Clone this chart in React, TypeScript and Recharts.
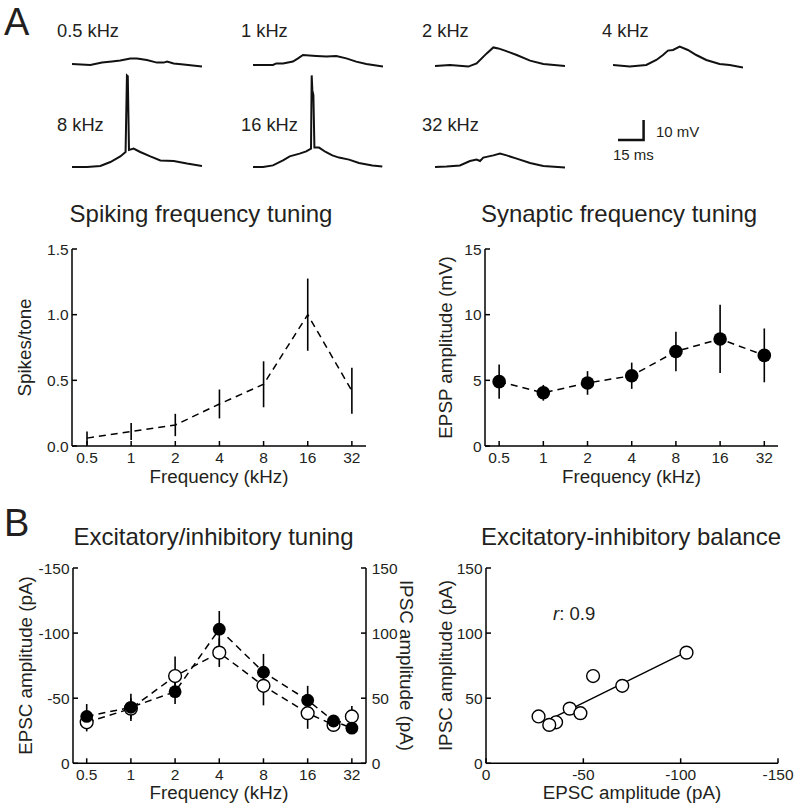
import React from 'react';
import { ComposedChart, LineChart, Line, Scatter, XAxis, YAxis, ErrorBar } from 'recharts';

const FONT = '"Liberation Sans", Arial, Helvetica, sans-serif';
const INK = '#231f20';

// tone frequencies (kHz)
const freqTicks = [0.5, 1, 2, 4, 8, 16, 32];
const freqsA = [0.5, 1, 2, 4, 8, 16, 32];
const freqsB = [0.5, 1, 2, 4, 8, 16, 24, 32];

// A: spiking tuning (spikes/tone, mean +- sem)
const spikesMean = [0.06, 0.11, 0.16, 0.32, 0.47, 1.0, 0.42];
const spikesErr = [0.05, 0.065, 0.085, 0.11, 0.175, 0.275, 0.175];

// A: synaptic tuning (EPSP mV)
const epspMean = [4.9, 4.05, 4.8, 5.35, 7.2, 8.15, 6.9];
const epspErr = [1.3, 0.6, 0.9, 1.0, 1.5, 2.6, 2.05];

// B: EPSC (pA, inward = negative) and IPSC (pA)
const epscMean = [-36, -43, -55, -103, -70, -48.5, -32.5, -27];
const epscErr = [9.5, 10.5, 9.5, 14, 14, 11, 3, 2];
const ipscMean = [31.5, 42, 67, 85, 59.5, 38.5, 29.5, 36];
const ipscErr = [7, 8, 15, 11, 15, 12, 3, 8];

// B: linear fit end points (EPSC, IPSC)
const fitEpsc = [-32.5, -103];
const fitIpsc = [33.6, 85.6];

// example membrane potential traces [ms, mV above rest]
const trace05 = [[0, 0.5], [10.7, 0], [17.6, 1.2], [23.4, 1.7], [28.3, 2.2], [34.2, 3.3], [38.1, 3.3], [43.9, 2.5], [49.8, 1.2], [53.7, 1.2], [55.7, 1.7], [59.6, 0.8], [65.4, 0.3], [76.2, -0.8]];
const trace1 = [[0, 0], [11.7, 0], [13.7, 0.8], [17.6, 0.8], [23.4, 1.7], [26.4, 3.3], [29.3, 5], [37.1, 4.5], [43, 4.2], [48.8, 4.5], [54.7, 3.3], [60.5, 1.7], [66.4, 0.5], [76.2, -0.8]];
const trace2 = [[0, -0.5], [8.8, 0], [19.5, -0.8], [24.4, 0.8], [30.3, 5.8], [34.2, 8.8], [37.1, 8.3], [41, 7.2], [47.9, 5], [55.7, 2.2], [63.5, 0.5], [76.2, -0.5]];
const trace4 = [[0, 0], [9.8, -0.8], [19.5, 0], [25.4, 2.5], [29.3, 5], [32.2, 7.2], [35.2, 7.5], [39.1, 9.2], [43.9, 7.5], [48.8, 5], [54.7, 2.5], [62.5, 0.5], [68.4, 0], [76.2, -1.2]];
const trace8 = [[0, 0], [8.8, 0], [16.6, 0.5], [22.5, 2.5], [28.3, 5.3], [31.4, 7.5], [32.2, 45.8], [32.7, 45.4], [33.4, 8.5], [36.1, 9.2], [40, 7.5], [45.9, 5.3], [51.8, 3.3], [59.6, 3], [67.4, 1.7], [76.2, 0.5]];
const trace16 = [[0, 0], [5.9, 0], [11.7, 0.8], [17.6, 3.3], [21.5, 5.3], [27.3, 6.7], [31.2, 7.8], [34, 9.2], [34.4, 45.8], [34.8, 38.3], [35.4, 36], [36, 9.7], [38.7, 9.7], [42.6, 7.5], [46.5, 5.8], [50.4, 4.7], [56.3, 3.7], [62.1, 2], [70, 0.8], [75.8, 0.3]];
const trace32 = [[0, 0], [6.8, 0.3], [14.6, 0.8], [20.5, 3], [24.4, 3.7], [26.4, 3], [28.3, 4.7], [34.2, 5.8], [38.1, 6.7], [42, 5.8], [47.9, 4.2], [55.7, 2], [63.5, 0.5], [76.2, -0.3]];

// scale bar: 15 ms, 10 mV
const scaleMs = 15;
const scaleMv = 10;

const toPts = (a: number[][]) => a.map(([t, v]) => ({ t, v }));

const spikingData = freqsA.map((f, i) => ({ lf: Math.log2(f), mean: spikesMean[i], err: spikesErr[i] }));
const epspData = freqsA.map((f, i) => ({ lf: Math.log2(f), mean: epspMean[i], err: epspErr[i] }));
const eiData = freqsB.map((f, i) => ({
  lf: Math.log2(f),
  epsc: epscMean[i],
  epscErr: epscErr[i],
  ipsc: ipscMean[i],
  ipscErr: ipscErr[i],
}));
const balanceData = freqsB.map((f, i) => ({ epsc: epscMean[i], ipsc: ipscMean[i] }));
const fitData = fitEpsc.map((e, i) => ({ epsc: e, ipsc: fitIpsc[i] }));

const traceRows = [
  { top: 33, height: 40, domain: [-4, 16], items: [
    { label: '0.5 kHz', data: trace05 },
    { label: '1 kHz', data: trace1 },
    { label: '2 kHz', data: trace2 },
    { label: '4 kHz', data: trace4 },
  ] },
  { top: 70.7, height: 104, domain: [-4, 48], items: [
    { label: '8 kHz', data: trace8 },
    { label: '16 kHz', data: trace16 },
    { label: '32 kHz', data: trace32 },
  ] },
];
const traceX = [71.7, 253.3, 435, 613.3];
const labelX = [57, 241, 422, 602];
const labelY = [37, 131];

const axisLine = { stroke: '#000', strokeWidth: 1.5 };
const tickLine = { stroke: '#000', strokeWidth: 1.5 };
const tick = { fontSize: 15.5, fill: INK };

const openDot = (p: any) => <circle cx={p.cx} cy={p.cy} r={6.4} fill="#fff" stroke="#000" strokeWidth={1.4} />;
const filledDot = (p: any) => <circle cx={p.cx} cy={p.cy} r={6.4} fill="#000" />;

const freqAxis = (domain: number[], margin = 11) => (
  <XAxis
    type="number"
    dataKey="lf"
    domain={domain}
    allowDataOverflow
    ticks={freqTicks.map((f) => Math.log2(f))}
    tickFormatter={(v: number) => String(2 ** v)}
    interval={0}
    height={40}
    tickSize={-5}
    tickMargin={margin}
    axisLine={axisLine}
    tickLine={tickLine}
    tick={tick}
  />
);

const Box = ({ left, top, children }: { left: number; top: number; children: React.ReactNode }) => (
  <div style={{ position: 'absolute', left, top }}>{children}</div>
);

const Traces = () => (
  <>
    {traceRows.map((row) =>
      row.items.map((it, c) => (
        <Box key={it.label} left={traceX[c]} top={row.top}>
          <LineChart width={130} height={row.height} data={toPts(it.data)} margin={{ top: 0, right: 0, bottom: 0, left: 0 }}>
            <XAxis type="number" dataKey="t" domain={[0, 76.2]} hide />
            <YAxis type="number" domain={row.domain} hide />
            <Line type="linear" dataKey="v" stroke="#111" strokeWidth={2} dot={false} isAnimationActive={false} />
          </LineChart>
        </Box>
      ))
    )}
    <Box left={616} top={118}>
      <LineChart
        width={29.6}
        height={24}
        data={[{ t: 0, v: 0 }, { t: scaleMs, v: 0 }, { t: scaleMs, v: scaleMv }]}
        margin={{ top: 2, right: 2, bottom: 2, left: 2 }}
      >
        <XAxis type="number" dataKey="t" domain={[0, scaleMs]} hide />
        <YAxis type="number" domain={[0, scaleMv]} hide />
        <Line type="linear" dataKey="v" stroke="#111" strokeWidth={2.5} dot={false} isAnimationActive={false} />
      </LineChart>
    </Box>
  </>
);

const SpikingChart = () => (
  <Box left={0} top={230}>
    <ComposedChart width={380} height={270} data={spikingData} margin={{ top: 19, right: 14, bottom: 14, left: 0 }}>
      {freqAxis([-1.34, 5.32])}
      <YAxis
        type="number"
        domain={[0, 1.5]}
        ticks={[0, 0.5, 1, 1.5]}
        tickFormatter={(v: number) => v.toFixed(1)}
        width={72}
        tickSize={-5}
        tickMargin={8.4}
        axisLine={axisLine}
        tickLine={tickLine}
        tick={tick}
      />
      <Line dataKey="mean" stroke="#000" strokeWidth={1.5} strokeDasharray="7 5" dot={false} isAnimationActive={false}>
        <ErrorBar dataKey="err" width={0} stroke="#000" strokeWidth={1.6} direction="y" isAnimationActive={false} />
      </Line>
    </ComposedChart>
  </Box>
);

const SynapticChart = () => (
  <Box left={400} top={230}>
    <ComposedChart width={392} height={270} data={epspData} margin={{ top: 19, right: 14, bottom: 14, left: 0 }}>
      {freqAxis([-1.32, 5.31])}
      <YAxis
        type="number"
        domain={[0, 15]}
        ticks={[0, 5, 10, 15]}
        width={85}
        tickSize={-5}
        tickMargin={8.4}
        axisLine={axisLine}
        tickLine={tickLine}
        tick={tick}
      />
      <Line
        dataKey="mean"
        stroke="#000"
        strokeWidth={1.5}
        strokeDasharray="7 5"
        dot={{ r: 6.8, fill: '#000', stroke: '#000', strokeWidth: 0 }}
        isAnimationActive={false}
      >
        <ErrorBar dataKey="err" width={0} stroke="#000" strokeWidth={1.6} direction="y" isAnimationActive={false} />
      </Line>
    </ComposedChart>
  </Box>
);

const TuningChart = () => (
  <Box left={0} top={548}>
    <ComposedChart width={426} height={270} data={eiData} margin={{ top: 20, right: 0, bottom: 14.7, left: 0 }}>
      {freqAxis([-1.31, 5.32], 10.3)}
      <YAxis
        yAxisId="l"
        type="number"
        domain={[-150, 0]}
        reversed
        ticks={[0, -50, -100, -150]}
        width={73}
        tickSize={-5}
        tickMargin={8.4}
        axisLine={axisLine}
        tickLine={tickLine}
        tick={tick}
      />
      <YAxis
        yAxisId="r"
        orientation="right"
        type="number"
        domain={[0, 150]}
        ticks={[0, 50, 100, 150]}
        width={60}
        tickSize={-5}
        tickMargin={10.7}
        axisLine={axisLine}
        tickLine={tickLine}
        tick={tick}
      />
      <Line yAxisId="l" dataKey="epsc" stroke="#000" strokeWidth={1.5} strokeDasharray="7 5" dot={false} isAnimationActive={false}>
        <ErrorBar dataKey="epscErr" width={0} stroke="#000" strokeWidth={1.6} direction="y" isAnimationActive={false} />
      </Line>
      <Line yAxisId="r" dataKey="ipsc" stroke="#000" strokeWidth={1.5} strokeDasharray="7 5" dot={false} isAnimationActive={false}>
        <ErrorBar dataKey="ipscErr" width={0} stroke="#000" strokeWidth={1.6} direction="y" isAnimationActive={false} />
      </Line>
      <Scatter yAxisId="r" dataKey="ipsc" shape={openDot} isAnimationActive={false} />
      <Scatter yAxisId="l" dataKey="epsc" shape={filledDot} isAnimationActive={false} />
    </ComposedChart>
  </Box>
);

const BalanceChart = () => (
  <Box left={400} top={548}>
    <ComposedChart width={400} height={270} margin={{ top: 20, right: 22, bottom: 14.7, left: 0 }}>
      <XAxis
        type="number"
        dataKey="epsc"
        domain={[-150, 0]}
        reversed
        ticks={[0, -50, -100, -150]}
        interval={0}
        height={40}
        tickSize={-5}
        tickMargin={10.3}
        axisLine={axisLine}
        tickLine={tickLine}
        tick={tick}
      />
      <YAxis
        type="number"
        dataKey="ipsc"
        domain={[0, 150]}
        ticks={[0, 50, 100, 150]}
        width={86}
        tickSize={-5}
        tickMargin={8.4}
        axisLine={axisLine}
        tickLine={tickLine}
        tick={tick}
      />
      <Line data={fitData} dataKey="ipsc" stroke="#000" strokeWidth={1.4} dot={false} isAnimationActive={false} />
      <Scatter data={balanceData} dataKey="ipsc" isAnimationActive={false} shape={openDot} />
    </ComposedChart>
  </Box>
);

const Overlay = () => (
  <svg
    width={800}
    height={810}
    style={{ position: 'absolute', left: 0, top: 0, pointerEvents: 'none' }}
    fontFamily={FONT}
    fill={INK}
  >
    <text x={4} y={35} fontSize={38}>A</text>
    <text x={4} y={536} fontSize={38}>B</text>

    {traceRows.map((row, r) =>
      row.items.map((it, c) => (
        <text key={it.label} x={labelX[c]} y={labelY[r]} fontSize={18.3}>{it.label}</text>
      ))
    )}
    <text x={656} y={137} fontSize={15}>10 mV</text>
    <text x={613} y={160} fontSize={15}>15 ms</text>

    <g fontSize={24} textAnchor="middle">
      <text x={201} y={222}>Spiking frequency tuning</text>
      <text x={619} y={222}>Synaptic frequency tuning</text>
      <text x={213.5} y={545}>Excitatory/inhibitory tuning</text>
      <text x={631} y={545}>Excitatory-inhibitory balance</text>
    </g>

    <g fontSize={18.8} textAnchor="middle">
      <text x={219} y={483}>Frequency (kHz)</text>
      <text x={631.5} y={483}>Frequency (kHz)</text>
      <text x={219} y={799}>Frequency (kHz)</text>
      <text x={632} y={799}>EPSC amplitude (pA)</text>
      <text transform="translate(30.5 347.5) rotate(-90)">Spikes/tone</text>
      <text transform="translate(451.5 347.5) rotate(-90)">EPSP amplitude (mV)</text>
      <text transform="translate(31.5 665.5) rotate(-90)">EPSC amplitude (pA)</text>
      <text transform="translate(400 665.5) rotate(90)">IPSC amplitude (pA)</text>
      <text transform="translate(451.5 665.5) rotate(-90)">IPSC amplitude (pA)</text>
    </g>

    <text x={553} y={620} fontSize={18.5}>
      <tspan fontStyle="italic">r</tspan>: 0.9
    </text>
  </svg>
);

export default function App() {
  return (
    <div style={{ position: 'absolute', left: 0, top: 0, width: 800, height: 810, background: '#fff', fontFamily: FONT, color: INK }}>
      <Traces />
      <SpikingChart />
      <SynapticChart />
      <TuningChart />
      <BalanceChart />
      <Overlay />
    </div>
  );
}
